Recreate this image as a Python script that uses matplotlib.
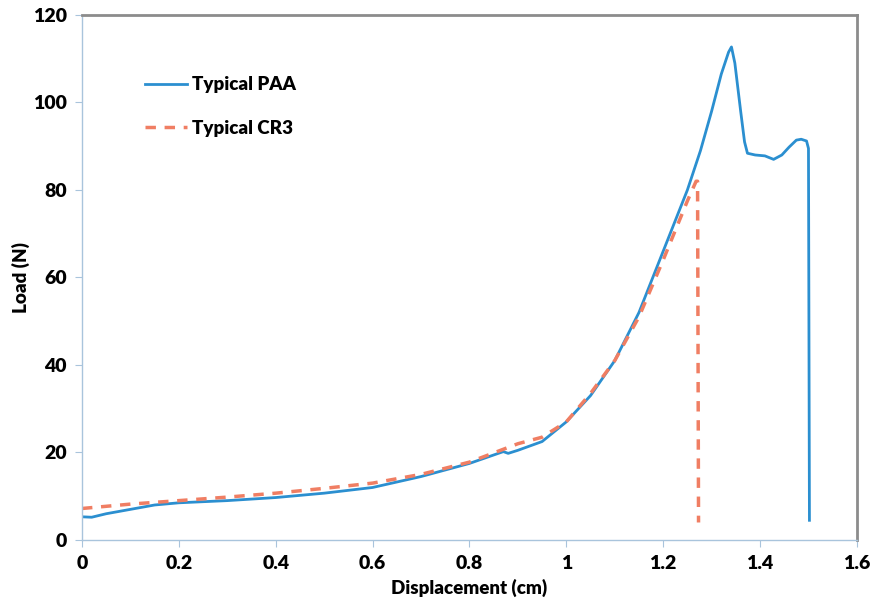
import numpy as np
import matplotlib
matplotlib.use("Agg")
import matplotlib.pyplot as plt

plt.rcParams["font.family"] = ["Lato", "DejaVu Sans"]

# Typical PAA (blue, solid)
paa_x = [0.0, 0.02, 0.05, 0.1, 0.15, 0.2, 0.3, 0.4, 0.5, 0.6, 0.7, 0.8, 0.87, 0.88, 0.9,
         0.95, 1.0, 1.05, 1.1, 1.15, 1.2, 1.25, 1.277, 1.3, 1.32, 1.335, 1.341, 1.348,
         1.36, 1.368, 1.374, 1.39, 1.41, 1.428, 1.445, 1.46, 1.475, 1.485, 1.496, 1.5, 1.502]
paa_y = [5.3, 5.2, 6.0, 7.0, 8.0, 8.5, 9.0, 9.7, 10.7, 12.0, 14.5, 17.5, 20.2, 19.8, 20.5,
         22.5, 27.0, 33.0, 41.0, 52.0, 66.0, 80.0, 89.0, 98.0, 106.5, 111.5, 112.7, 109.0,
         98.0, 91.0, 88.4, 88.0, 87.8, 87.0, 88.0, 89.8, 91.4, 91.6, 91.2, 89.5, 4.5]

# Typical CR3 (red, dashed)
cr3_x = [0.0, 0.1, 0.2, 0.3, 0.4, 0.5, 0.6, 0.7, 0.8, 0.9, 0.95, 1.0, 1.05, 1.1, 1.15,
         1.2, 1.25, 1.268, 1.271, 1.273]
cr3_y = [7.2, 8.2, 9.0, 9.8, 10.7, 11.8, 13.0, 15.0, 17.8, 22.0, 23.5, 27.0, 33.5, 41.0, 51.0,
         64.0, 77.5, 82.0, 82.0, 4.0]

fig = plt.figure(figsize=(8.76, 6.07), dpi=100)
ax = fig.add_axes([0.0936, 0.1104, 0.8846, 0.8649])

ax.plot(paa_x, paa_y, color="#2b8fd0", linewidth=2.0, label="Typical PAA")
ax.plot(cr3_x, cr3_y, color="#f07e63", linewidth=2.5, linestyle=(0, (3, 2.5)),
        label="Typical CR3")

ax.set_xlim(0, 1.6)
ax.set_ylim(0, 120)
ax.set_xticks(np.arange(0, 1.61, 0.2))
ax.set_xticklabels(["0", "0.2", "0.4", "0.6", "0.8", "1", "1.2", "1.4", "1.6"])
ax.set_yticks(np.arange(0, 121, 20))

for s in ["left", "bottom"]:
    ax.spines[s].set_color("#a9c4dc")
    ax.spines[s].set_linewidth(1.0)
for s in ["top", "right"]:
    ax.spines[s].set_color("#8c8c8c")
    ax.spines[s].set_linewidth(2.0)

ax.tick_params(axis="both", direction="out", length=5, color="#a9c4dc",
               labelsize=14, pad=6)
for lbl in ax.get_xticklabels() + ax.get_yticklabels():
    lbl.set_fontweight("heavy")

ax.set_xlabel("Displacement (cm)", fontsize=13.5, fontweight="heavy", labelpad=5)
ax.set_ylabel("Load (N)", fontsize=13.5, fontweight="heavy", labelpad=2)

leg = ax.legend(loc="upper left", bbox_to_anchor=(0.06, 0.915), frameon=False,
                fontsize=13.5, handlelength=2.2, labelspacing=1.4, handletextpad=0.3)
for t in leg.get_texts():
    t.set_fontweight("heavy")

fig.savefig("out.png", dpi=100)
